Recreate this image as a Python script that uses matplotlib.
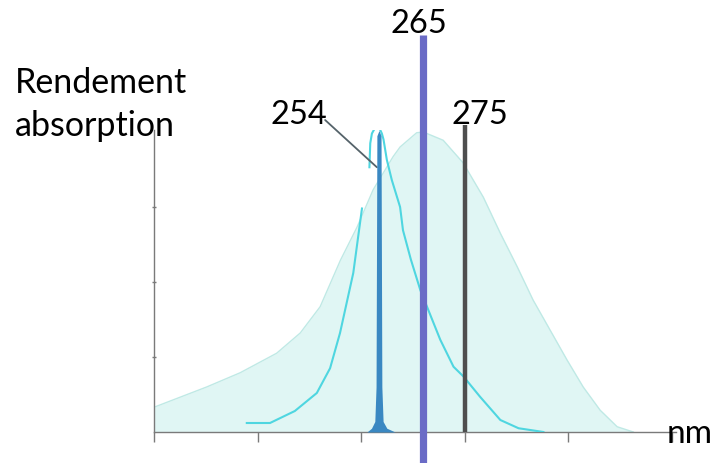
import matplotlib
matplotlib.use("Agg")
import matplotlib.pyplot as plt

# ---- data ----
env_nm = [200, 212.7, 220.8, 229.6, 235.3, 240.1, 245, 249, 252.9, 257.7, 259.4, 263.4, 265,
          269.8, 274.6, 279.5, 283.6, 287.7, 291.5, 295.6, 299.7, 303.6, 307.7, 311.8, 315.7]
env_val = [0.33, 0.6, 0.79, 1.05, 1.32, 1.67, 2.29, 2.73, 3.23, 3.67, 3.8, 3.99, 4.0,
           3.89, 3.59, 3.13, 2.65, 2.2, 1.76, 1.36, 0.96, 0.6, 0.29, 0.07, 0.0]

curve_left_nm = [222.4, 228.0, 234.0, 239.3, 242.5, 244.9, 248.1, 250.2]
curve_left_val = [0.12, 0.12, 0.28, 0.52, 0.85, 1.32, 2.12, 2.98]

curve_right_nm = [252.0, 252.2, 252.6, 253.2, 253.8, 254.5, 255.0, 255.4, 256.2, 257.4, 259.4,
                  260.1, 262.0, 264.3, 265.9, 269.1, 272.3, 274.7, 278.7, 283.6, 288.0, 294.0]
curve_right_val = [3.53, 3.85, 3.98, 4.04, 4.05, 4.04, 3.98, 3.9, 3.63, 3.36, 3.0,
                   2.69, 2.3, 1.89, 1.67, 1.23, 0.87, 0.74, 0.47, 0.16, 0.05, 0.0]

spike_nm = [251.4, 252.5, 253.3, 253.6, 253.8, 254.3, 254.8, 255.0, 255.3, 256.2, 258.2]
spike_val = [0.0, 0.05, 0.14, 0.6, 3.95, 4.02, 3.95, 0.6, 0.14, 0.05, 0.0]

lines_nm = [254, 265, 275]
line_labels = ["254", "265", "275"]
x_ticks = [200, 225, 250, 275, 300, 325]
y_ticks = [1, 2, 3]

# ---- figure ----
W, H, DPI = 724, 463, 100
fig = plt.figure(figsize=(W / DPI, H / DPI), dpi=DPI)
plt.rcParams['font.family'] = ['Lato', 'DejaVu Sans']

ax = fig.add_axes([154 / W, 31 / H, 522 / W, 302.25 / H])
ax.set_xlim(200, 326)
ax.set_ylim(0, 4.03)
ax.patch.set_alpha(0)

for s in ['top', 'right']:
    ax.spines[s].set_visible(False)
for s in ['left', 'bottom']:
    ax.spines[s].set_color('#7a7a7a')
    ax.spines[s].set_linewidth(1.0)

ax.set_xticks(x_ticks)
ax.set_xticklabels([])
ax.set_yticks(y_ticks)
ax.set_yticklabels([])
ax.tick_params(axis='x', direction='out', length=7.5, width=1.0, color='#7a7a7a')
ax.tick_params(axis='y', direction='inout', length=3.5, width=1.0, color='#7a7a7a')

# broad absorption envelope
ax.fill_between(env_nm, env_val, 0, color='#e0f6f4', lw=0, zorder=1)
ax.plot(env_nm, env_val, color='#bfe9e5', lw=1.0, zorder=2)

# narrow cyan curve
ax.plot(curve_left_nm, curve_left_val, color='#4fd6e0', lw=1.5, zorder=3)
ax.plot(curve_right_nm, curve_right_val, color='#4fd6e0', lw=1.5, zorder=3)

# 254 nm spike
ax.fill_between(spike_nm, spike_val, 0, color='#3a88c2', lw=0, zorder=4)

# 275 nm line
ax.vlines(lines_nm[2], 0, 4.09, color='#4e4e4e', lw=3.2, zorder=5, clip_on=False)
# 265 nm line (extends beyond the axes)
ax.vlines(lines_nm[1], -0.42, 5.29, color='#6a6bc6', lw=5.2, zorder=6, clip_on=False)

fs_num = 23.5
fs_word = 24.5
# labels of lines
ax.text(263.95, 5.32, line_labels[1], fontsize=fs_num, ha='center', va='baseline', clip_on=False)
ax.text(278.7, 4.107, line_labels[2], fontsize=fs_num, ha='center', va='baseline', clip_on=False)
ax.text(234.9, 4.107, line_labels[0], fontsize=fs_num, ha='center', va='baseline', clip_on=False)
ax.annotate('', xy=(253.8, 3.53), xytext=(241.3, 4.16), annotation_clip=False,
            arrowprops=dict(arrowstyle='-', color='#55636a', lw=1.3,
                            shrinkA=0, shrinkB=0))

# axis titles
ax.text(166.5, 4.516, "Rendement", fontsize=fs_word, ha='left', va='baseline', clip_on=False)
ax.text(166.5, 3.94, "absorption", fontsize=fs_word, ha='left', va='baseline', clip_on=False)
ax.text(323.8, -0.147, "nm", fontsize=24, ha='left', va='baseline', clip_on=False, zorder=7)

fig.savefig("out.png", dpi=DPI)
